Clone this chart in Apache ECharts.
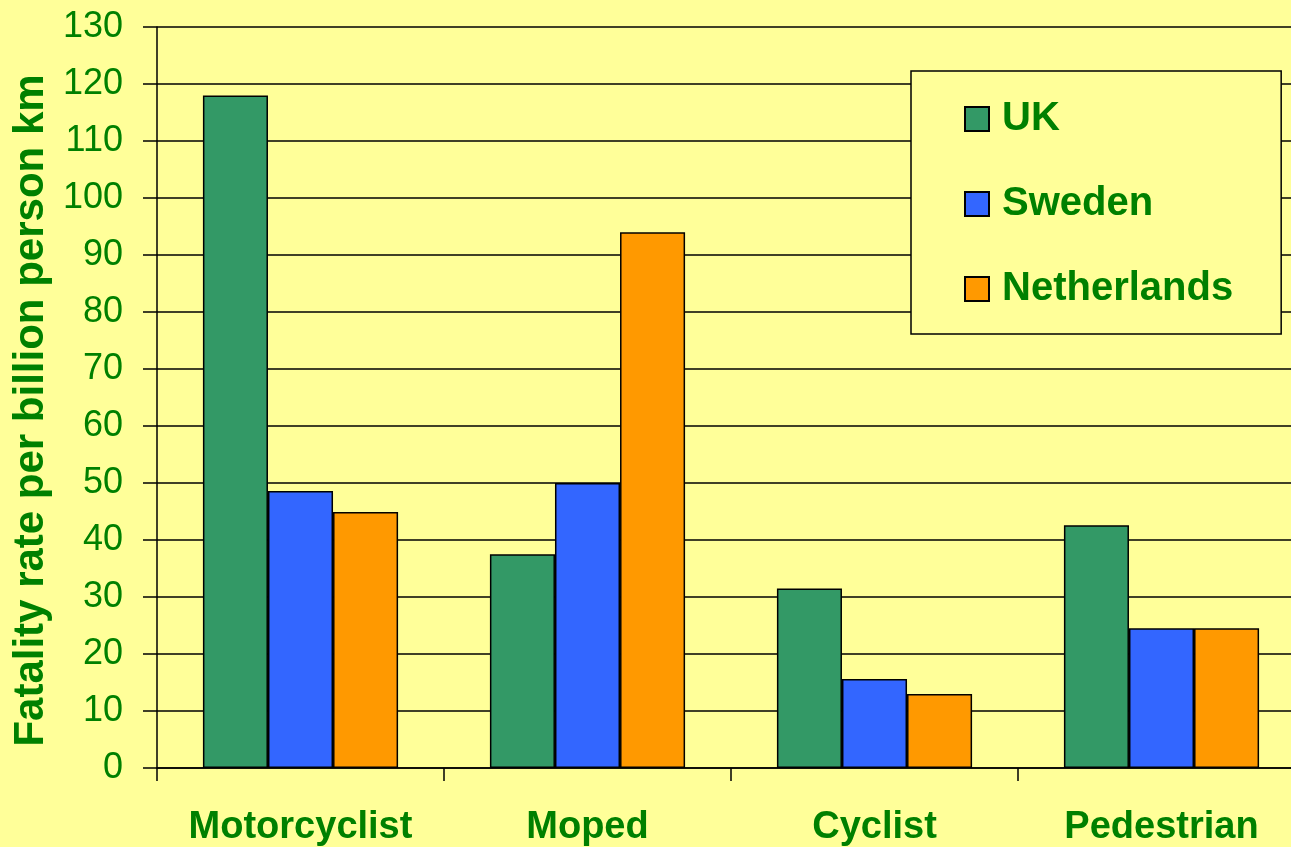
<!DOCTYPE html>
<head>
    <title>ECharts</title>
    <meta charset="UTF-8">
    <style>
        html, body { margin: 0; padding: 0; background: #FFFF99; }
    </style>
</head>
<body>
    <div id="main" style="width:1291px;height:847px;"></div>

    <script src="https://cdn.jsdelivr.net/npm/echarts@6/dist/echarts.min.js"></script>
    <script type="text/javascript">
    // data
    var categories = ['Motorcyclist', 'Moped', 'Cyclist', 'Pedestrian'];
    var ukValues = [118, 37.5, 31.5, 42.6];
    var swedenValues = [48.6, 50, 15.6, 24.5];
    var netherlandsValues = [44.9, 94, 13, 24.5];
    var yTicks = { min: 0, max: 130, interval: 10 };

    var green = '#008000';
    var font = 'Arial, "Liberation Sans", sans-serif';

    function barSeries(name, data, color) {
        return {
            name: name,
            type: 'bar',
            data: data,
            barGap: '0%',
            barCategoryGap: '32%',
            itemStyle: { color: color, borderColor: '#000', borderWidth: 1.5 }
        };
    }

    var myChart = echarts.init(document.getElementById('main'));
    myChart.setOption({
        backgroundColor: '#FFFF99',
        animation: false,
        textStyle: { fontFamily: font },
        grid: { left: 157, top: 27, width: 1148, height: 741, containLabel: false, outerBoundsMode: 'none' },
        legend: {
            orient: 'vertical',
            left: 911,
            top: 71,
            padding: [28, 48, 25, 53],
            itemGap: 45,
            itemWidth: 24,
            itemHeight: 24,
            icon: 'rect',
            backgroundColor: '#FFFF99',
            borderColor: '#000',
            borderWidth: 1.5,
            borderRadius: 0,
            textStyle: { color: green, fontSize: 40, fontWeight: 'bold', fontFamily: font, padding: [0, 0, 0, 8] }
        },
        xAxis: {
            type: 'category',
            data: categories,
            axisLine: { lineStyle: { color: '#000', width: 1.5 } },
            axisTick: { show: true, length: 13, lineStyle: { color: '#000', width: 1.5 } },
            axisLabel: { color: green, fontSize: 38, fontWeight: 'bold', margin: 41, fontFamily: font, interval: 0 },
            splitLine: { show: false }
        },
        yAxis: {
            type: 'value',
            min: yTicks.min,
            max: yTicks.max,
            interval: yTicks.interval,
            name: 'Fatality rate per billion person km',
            nameLocation: 'middle',
            nameGap: 104,
            nameTextStyle: { color: green, fontSize: 42, fontWeight: 'bold', fontFamily: font, padding: [0, 26, 0, 0] },
            axisLine: { show: true, lineStyle: { color: '#000', width: 1.5 } },
            axisTick: { show: true, length: 14, lineStyle: { color: '#000', width: 1.5 } },
            axisLabel: { color: green, fontSize: 36, margin: 34, fontFamily: font },
            splitLine: { show: true, lineStyle: { color: '#000', width: 1.5 } }
        },
        series: [
            barSeries('UK', ukValues, '#339966'),
            barSeries('Sweden', swedenValues, '#3366FF'),
            barSeries('Netherlands', netherlandsValues, '#FF9900')
        ]
    });
    </script>
</body>
